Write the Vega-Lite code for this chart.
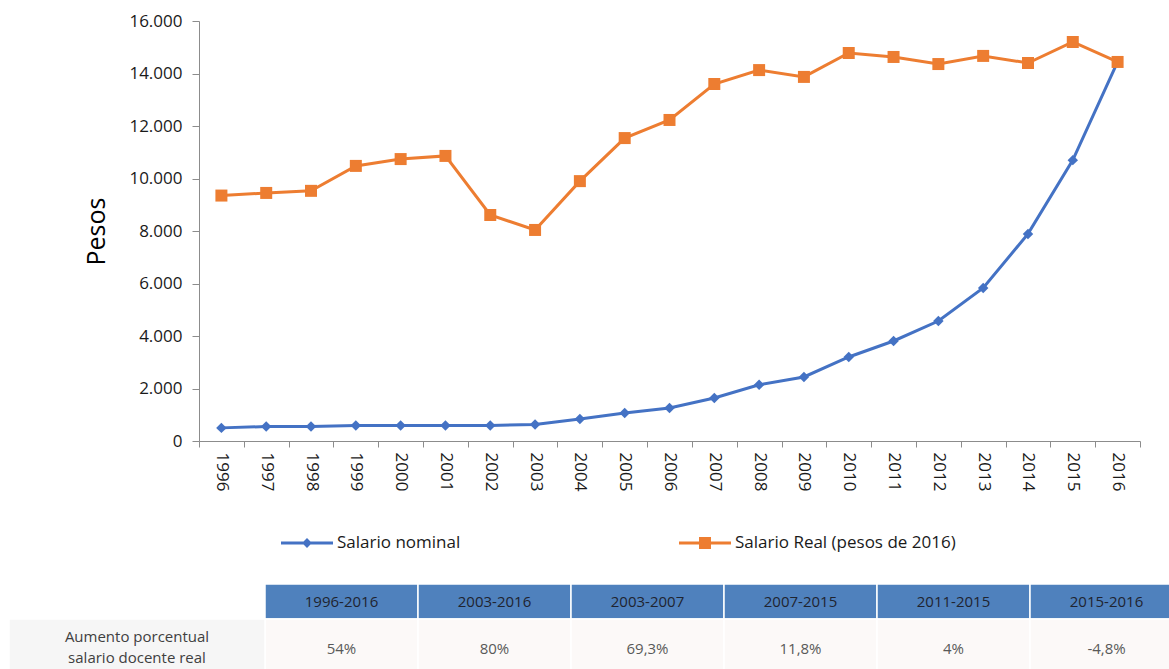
{
  "$schema": "https://vega.github.io/schema/vega-lite/v6.json",
  "width": 941,
  "height": 420,
  "autosize": "none",
  "padding": {"left": 199, "top": 21, "right": 29, "bottom": 228},
  "background": "white",
  "config": {
    "view": {"stroke": null},
    "font": "Open Sans",
    "text": {"font": "Open Sans"}
  },
  "datasets": {
    "salarios": [
      {"anio": "1996", "serie": "Salario nominal", "valor": 500},
      {"anio": "1997", "serie": "Salario nominal", "valor": 550},
      {"anio": "1998", "serie": "Salario nominal", "valor": 550},
      {"anio": "1999", "serie": "Salario nominal", "valor": 590},
      {"anio": "2000", "serie": "Salario nominal", "valor": 590},
      {"anio": "2001", "serie": "Salario nominal", "valor": 590},
      {"anio": "2002", "serie": "Salario nominal", "valor": 590},
      {"anio": "2003", "serie": "Salario nominal", "valor": 630},
      {"anio": "2004", "serie": "Salario nominal", "valor": 840},
      {"anio": "2005", "serie": "Salario nominal", "valor": 1070},
      {"anio": "2006", "serie": "Salario nominal", "valor": 1260},
      {"anio": "2007", "serie": "Salario nominal", "valor": 1640},
      {"anio": "2008", "serie": "Salario nominal", "valor": 2140},
      {"anio": "2009", "serie": "Salario nominal", "valor": 2440},
      {"anio": "2010", "serie": "Salario nominal", "valor": 3200},
      {"anio": "2011", "serie": "Salario nominal", "valor": 3810},
      {"anio": "2012", "serie": "Salario nominal", "valor": 4570},
      {"anio": "2013", "serie": "Salario nominal", "valor": 5830},
      {"anio": "2014", "serie": "Salario nominal", "valor": 7890},
      {"anio": "2015", "serie": "Salario nominal", "valor": 10700},
      {"anio": "2016", "serie": "Salario nominal", "valor": 14440},
      {"anio": "1996", "serie": "Salario Real (pesos de 2016)", "valor": 9350},
      {"anio": "1997", "serie": "Salario Real (pesos de 2016)", "valor": 9450},
      {"anio": "1998", "serie": "Salario Real (pesos de 2016)", "valor": 9530},
      {"anio": "1999", "serie": "Salario Real (pesos de 2016)", "valor": 10480},
      {"anio": "2000", "serie": "Salario Real (pesos de 2016)", "valor": 10740},
      {"anio": "2001", "serie": "Salario Real (pesos de 2016)", "valor": 10860},
      {"anio": "2002", "serie": "Salario Real (pesos de 2016)", "valor": 8610},
      {"anio": "2003", "serie": "Salario Real (pesos de 2016)", "valor": 8040},
      {"anio": "2004", "serie": "Salario Real (pesos de 2016)", "valor": 9900},
      {"anio": "2005", "serie": "Salario Real (pesos de 2016)", "valor": 11540},
      {"anio": "2006", "serie": "Salario Real (pesos de 2016)", "valor": 12230},
      {"anio": "2007", "serie": "Salario Real (pesos de 2016)", "valor": 13600},
      {"anio": "2008", "serie": "Salario Real (pesos de 2016)", "valor": 14130},
      {"anio": "2009", "serie": "Salario Real (pesos de 2016)", "valor": 13870},
      {"anio": "2010", "serie": "Salario Real (pesos de 2016)", "valor": 14780},
      {"anio": "2011", "serie": "Salario Real (pesos de 2016)", "valor": 14630},
      {"anio": "2012", "serie": "Salario Real (pesos de 2016)", "valor": 14360},
      {"anio": "2013", "serie": "Salario Real (pesos de 2016)", "valor": 14670},
      {"anio": "2014", "serie": "Salario Real (pesos de 2016)", "valor": 14400},
      {"anio": "2015", "serie": "Salario Real (pesos de 2016)", "valor": 15200},
      {"anio": "2016", "serie": "Salario Real (pesos de 2016)", "valor": 14440}
    ],
    "periodos": [
      {"periodo": "1996-2016", "aumento": "54%"},
      {"periodo": "2003-2016", "aumento": "80%"},
      {"periodo": "2003-2007", "aumento": "69,3%"},
      {"periodo": "2007-2015", "aumento": "11,8%"},
      {"periodo": "2011-2015", "aumento": "4%"},
      {"periodo": "2015-2016", "aumento": "-4,8%"}
    ],
    "filas": [
      {"etiqueta": "Aumento porcentual\nsalario docente real"}
    ]
  },
  "layer": [
    {
      "data": {"name": "salarios"},
      "encoding": {
        "x": {
          "field": "anio",
          "type": "ordinal",
          "scale": {"type": "band", "paddingInner": 0, "paddingOuter": 0},
          "axis": {
            "title": null,
            "labelAngle": 90,
            "labelFontSize": 17,
            "labelColor": "#1a1a1a",
            "labelPadding": 5,
            "tickBand": "extent",
            "tickSize": 6,
            "tickColor": "#8c8c8c",
            "domainColor": "#8c8c8c",
            "grid": false
          }
        },
        "y": {
          "field": "valor",
          "type": "quantitative",
          "scale": {"domain": [0, 16000], "nice": false},
          "axis": {
            "title": "Pesos",
            "titleFontSize": 25,
            "titleFontWeight": "normal",
            "titleColor": "#000000",
            "titlePadding": 19,
            "values": [0, 2000, 4000, 6000, 8000, 10000, 12000, 14000, 16000],
            "labelExpr": "replace(format(datum.value, ','), ',', '.')",
            "labelFontSize": 17,
            "labelColor": "#1a1a1a",
            "labelPadding": 10,
            "tickSize": 7,
            "tickColor": "#8c8c8c",
            "domainColor": "#8c8c8c",
            "grid": false
          }
        },
        "color": {
          "field": "serie",
          "type": "nominal",
          "scale": {
            "domain": ["Salario nominal", "Salario Real (pesos de 2016)"],
            "range": ["#4472C4", "#ED7D31"]
          },
          "legend": {
            "title": null,
            "orient": "none",
            "direction": "horizontal",
            "legendX": 82,
            "legendY": 496,
            "labelFontSize": 17,
            "labelColor": "#1a1a1a",
            "labelOffset": 4,
            "columnPadding": 218,
            "symbolSize": 2704,
            "labelLimit": 400,
            "encode": {
              "symbols": {
                "update": {
                  "shape": {"signal": "datum.value === 'Salario nominal' ? 'M-1,-0.058H1V0.058H-1Z M0,-0.19L0.19,0L0,0.19L-0.19,0Z' : 'M-1,-0.058H1V0.058H-1Z M-0.23,-0.23H0.23V0.23H-0.23Z'"},
                  "fill": {"signal": "datum.value === 'Salario nominal' ? '#4472C4' : '#ED7D31'"},
                  "stroke": {"value": "transparent"},
                  "strokeWidth": {"value": 0},
                  "opacity": {"value": 1},
                  "size": {"value": 2704}
                }
              }
            }
          }
        }
      },
      "layer": [
        {"mark": {"type": "line", "strokeWidth": 3}},
        {
          "mark": {"type": "point", "filled": true, "opacity": 1},
          "encoding": {
            "shape": {
              "condition": {"test": "datum.serie === 'Salario nominal'", "value": "diamond"},
              "value": "square"
            },
            "size": {
              "condition": {"test": "datum.serie === 'Salario nominal'", "value": 110},
              "value": 144
            }
          }
        }
      ]
    },
    {
      "data": {"name": "periodos"},
      "encoding": {
        "x": {
          "field": "periodo",
          "type": "nominal",
          "sort": null,
          "scale": {"type": "band", "range": [66, 984], "paddingInner": 0, "paddingOuter": 0},
          "axis": null
        }
      },
      "layer": [
        {
          "encoding": {
            "y": {
              "datum": "encabezado",
              "type": "nominal",
              "scale": {"type": "band", "range": [563, 598], "paddingInner": 0, "paddingOuter": 0},
              "axis": null
            }
          },
          "layer": [
            {"mark": {"type": "rect", "fill": "#4F81BD", "stroke": "#ffffff", "strokeWidth": 1.5}},
            {
              "mark": {"type": "text", "fontSize": 15, "color": "#1f2430"},
              "encoding": {"text": {"field": "periodo", "type": "nominal"}}
            }
          ]
        },
        {
          "encoding": {
            "y": {
              "datum": "cuerpo",
              "type": "nominal",
              "scale": {"type": "band", "range": [598, 658], "paddingInner": 0, "paddingOuter": 0},
              "axis": null
            }
          },
          "layer": [
            {"mark": {"type": "rect", "fill": "#FCF9F8", "stroke": "#ffffff", "strokeWidth": 1.5}},
            {
              "mark": {"type": "text", "fontSize": 15, "color": "#595959"},
              "encoding": {"text": {"field": "aumento", "type": "nominal"}}
            }
          ]
        }
      ],
      "resolve": {"scale": {"y": "independent"}}
    },
    {
      "data": {"name": "filas"},
      "encoding": {
        "x": {
          "field": "etiqueta",
          "type": "nominal",
          "scale": {"type": "band", "range": [-190, 66], "paddingInner": 0, "paddingOuter": 0},
          "axis": null
        },
        "y": {
          "datum": "cuerpo",
          "type": "nominal",
          "scale": {"type": "band", "range": [598, 658], "paddingInner": 0, "paddingOuter": 0},
          "axis": null
        }
      },
      "layer": [
        {"mark": {"type": "rect", "fill": "#F6F6F6", "stroke": "#ffffff", "strokeWidth": 1.5}},
        {
          "mark": {"type": "text", "fontSize": 15, "color": "#404040", "lineBreak": "\n", "lineHeight": 21, "dy": -12},
          "encoding": {"text": {"field": "etiqueta", "type": "nominal"}}
        }
      ]
    }
  ],
  "resolve": {"scale": {"x": "independent", "y": "independent"}}
}
